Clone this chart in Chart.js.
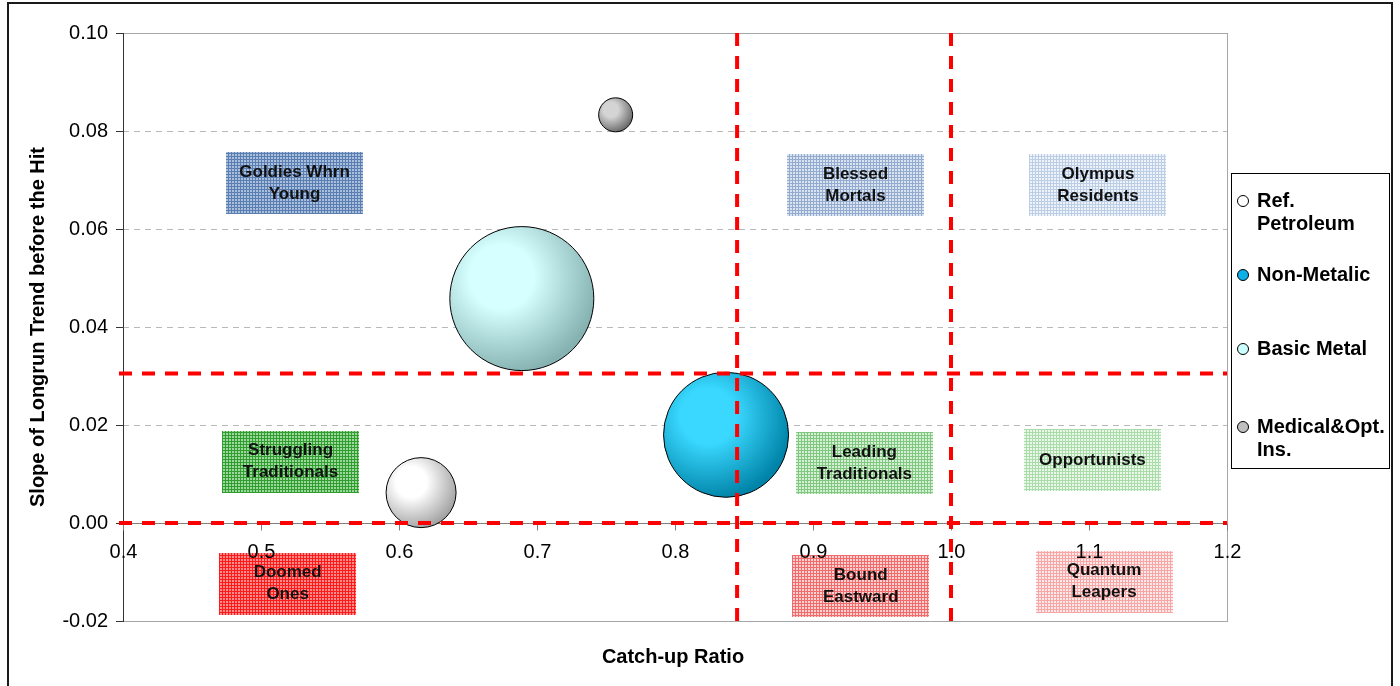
<!DOCTYPE html>
<html>
<head>
<meta charset="utf-8">
<title>Catch-up Ratio vs Slope of Longrun Trend</title>
<script src="https://cdn.jsdelivr.net/npm/chart.js@4.4.1/dist/chart.umd.min.js"></script>
<style>
  html, body { margin: 0; padding: 0; background: #ffffff; }
  #wrap { width: 1400px; height: 686px; }
</style>
</head>
<body>
<div id="wrap"><canvas id="chart" width="1400" height="686"></canvas></div>
<script>
// ---- data ----
const seriesNames = ['Ref. Petroleum', 'Non-Metalic', 'Basic Metal', 'Medical&Opt. Ins.'];
const legendLines = [['Ref.', 'Petroleum'], ['Non-Metalic'], ['Basic Metal'], ['Medical&Opt.', 'Ins.']];
const catchUpRatio = [0.616, 0.837, 0.689, 0.757];
const longrunSlope = [0.0062, 0.018, 0.0458, 0.0833];
const bubbleRadius = [35, 62.5, 72, 17];

const catchUpTicks = [0.4, 0.5, 0.6, 0.7, 0.8, 0.9, 1.0, 1.1, 1.2];
const slopeTicks = [-0.02, 0.00, 0.02, 0.04, 0.06, 0.08, 0.10];

// quadrant thresholds
const catchUpCuts = [0.845, 1.0];
const slopeCuts = [0.0, 0.0305];

// zone labels and their centres (catch-up, slope)
const zoneLabels = [
  ['Goldies Whrn', 'Young'], ['Blessed', 'Mortals'], ['Olympus', 'Residents'],
  ['Struggling', 'Traditionals'], ['Leading', 'Traditionals'], ['Opportunists'],
  ['Doomed', 'Ones'], ['Bound', 'Eastward'], ['Quantum', 'Leapers']
];
const zoneCatchUp = [0.5243, 0.9308, 1.1065, 0.5214, 0.9372, 1.1025, 0.5193, 0.9346, 1.1109];
const zoneSlope = [0.0693, 0.0689, 0.0689, 0.01255, 0.01218, 0.01276, -0.0124, -0.01286, -0.0120];

// ---- styling ----
const FONT = "'Liberation Sans', Arial, Helvetica, sans-serif";
const bubbleShades = [
  ['#ffffff', '#a4a4a4'],
  ['#3ad8ff', '#0083a8'],
  ['#d6ffff', '#86b2b2'],
  ['#d4d4d4', '#6c6c6c']
];
const legendFills = ['#ffffff', '#0ab0e6', '#ccffff', '#bfbfbf'];
const zoneHatch = [
  ['#5a7db2', '#aabfdc'], ['#94abd0', '#dae3f0'], ['#bccde6', '#eef2f9'],
  ['#2f9e2f', '#9ed89e'], ['#80c880', '#d6efd6'], ['#aadcaa', '#ebf7eb'],
  ['#ff1a1a', '#ff8c8c'], ['#f26a6a', '#fcd2d2'], ['#f7a6a6', '#fde9e9']
];
const ZONE_W = 0.0993;
const ZONE_H = 0.01265;

const canvas = document.getElementById('chart');
const c2d = canvas.getContext('2d');

function hatch(lineColor, fillColor) {
  const t = document.createElement('canvas');
  t.width = 3; t.height = 3;
  const g = t.getContext('2d');
  g.fillStyle = fillColor; g.fillRect(0, 0, 3, 3);
  g.fillStyle = lineColor; g.fillRect(0, 0, 3, 1); g.fillRect(0, 0, 1, 3);
  return c2d.createPattern(t, 'repeat');
}
const zonePatterns = zoneHatch.map(h => hatch(h[0], h[1]));

function shadedBubble(i) {
  return (ctx) => {
    if (ctx.type !== 'data' || !ctx.raw) return bubbleShades[i][0];
    const sx = ctx.chart.scales.x, sy = ctx.chart.scales.y;
    if (!sx || !sy || !sx.width) return bubbleShades[i][0];
    const px = sx.getPixelForValue(ctx.raw.x);
    const py = sy.getPixelForValue(ctx.raw.y);
    const r = ctx.raw.r;
    const hx = px - r * 0.28, hy = py - r * 0.3;
    const g = ctx.chart.ctx.createRadialGradient(hx, hy, r * 0.05, hx, hy, r * 1.35);
    g.addColorStop(0, bubbleShades[i][0]);
    g.addColorStop(0.3, bubbleShades[i][0]);
    g.addColorStop(1, bubbleShades[i][1]);
    return g;
  };
}

const datasets = seriesNames.map((name, i) => ({
  label: name,
  data: [{ x: catchUpRatio[i], y: longrunSlope[i], r: bubbleRadius[i] }],
  backgroundColor: shadedBubble(i),
  borderColor: '#000000',
  borderWidth: 1,
  hoverRadius: 0,
  clip: false
}));

function strokeLine(ctx, x1, y1, x2, y2) {
  ctx.beginPath(); ctx.moveTo(x1, y1); ctx.lineTo(x2, y2); ctx.stroke();
}

const decorations = {
  id: 'decorations',
  beforeDraw(chart) {
    const { ctx, chartArea: a, scales: { x, y } } = chart;
    ctx.save();
    ctx.fillStyle = '#ffffff';
    ctx.fillRect(0, 0, chart.width, chart.height);

    // dashed horizontal gridlines
    ctx.strokeStyle = '#b8b8b8';
    ctx.lineWidth = 1;
    ctx.setLineDash([6, 5]);
    slopeTicks.forEach(v => {
      if (v <= slopeTicks[0] || v >= slopeTicks[slopeTicks.length - 1] || v === 0) return;
      const py = Math.round(y.getPixelForValue(v)) + 0.5;
      strokeLine(ctx, a.left, py, a.right, py);
    });
    ctx.setLineDash([]);

    // plot frame
    ctx.strokeStyle = '#a6a6a6';
    ctx.strokeRect(Math.round(a.left) + 0.5, Math.round(a.top) + 0.5,
                   Math.round(a.right - a.left), Math.round(a.bottom - a.top));

    // zone boxes
    zoneLabels.forEach((lines, i) => {
      const l = x.getPixelForValue(zoneCatchUp[i] - ZONE_W / 2);
      const r = x.getPixelForValue(zoneCatchUp[i] + ZONE_W / 2);
      const t = y.getPixelForValue(zoneSlope[i] + ZONE_H / 2);
      const b = y.getPixelForValue(zoneSlope[i] - ZONE_H / 2);
      ctx.fillStyle = zonePatterns[i];
      ctx.fillRect(Math.round(l), Math.round(t), Math.round(r - l), Math.round(b - t));
      ctx.fillStyle = '#111111';
      ctx.font = 'bold 17px ' + FONT;
      ctx.textAlign = 'center';
      ctx.textBaseline = 'middle';
      const cx = (l + r) / 2, cy = (t + b) / 2;
      const lh = 22;
      lines.forEach((txt, k) => {
        ctx.fillText(txt, cx, cy + (k - (lines.length - 1) / 2) * lh);
      });
    });
    ctx.restore();
  },
  beforeDatasetsDraw(chart) {
    // horizontal axis crossing at slope 0, with its ticks and labels
    const { ctx, chartArea: a, scales: { x, y } } = chart;
    const py = Math.round(y.getPixelForValue(0)) + 0.5;
    ctx.save();
    ctx.strokeStyle = '#7f7f7f';
    ctx.lineWidth = 1;
    strokeLine(ctx, a.left, py, a.right, py);
    ctx.fillStyle = '#000000';
    ctx.font = '20px ' + FONT;
    ctx.textAlign = 'center';
    ctx.textBaseline = 'middle';
    catchUpTicks.forEach(v => {
      const px = Math.round(x.getPixelForValue(v)) + 0.5;
      strokeLine(ctx, px, py, px, py + 7);
      ctx.fillText(v.toFixed(1), px, py + 29);
    });
    ctx.restore();
  },
  afterDatasetsDraw(chart) {
    const { ctx, chartArea: a, scales: { x, y } } = chart;
    ctx.save();
    ctx.strokeStyle = '#ff0000';
    ctx.lineWidth = 4;
    ctx.setLineDash([13, 10]);
    slopeCuts.forEach(v => {
      const py = y.getPixelForValue(v);
      strokeLine(ctx, a.left - 4, py, a.right, py);
    });
    catchUpCuts.forEach(v => {
      const px = x.getPixelForValue(v);
      strokeLine(ctx, px, a.top, px, a.bottom);
    });
    ctx.restore();
  },
  afterDraw(chart) {
    const { ctx, chartArea: a } = chart;
    ctx.save();
    // x axis title
    ctx.fillStyle = '#000000';
    ctx.font = 'bold 20px ' + FONT;
    ctx.textAlign = 'center';
    ctx.textBaseline = 'middle';
    ctx.fillText('Catch-up Ratio', (a.left + a.right) / 2 - 2, 657);

    // legend
    ctx.strokeStyle = '#000000';
    ctx.lineWidth = 1;
    ctx.strokeRect(1231.5, 173.5, 158, 295);
    const rowY = [201, 275, 349, 427];
    ctx.textAlign = 'left';
    legendLines.forEach((lines, i) => {
      ctx.beginPath();
      ctx.arc(1243, rowY[i], 5.5, 0, Math.PI * 2);
      ctx.fillStyle = legendFills[i];
      ctx.fill();
      ctx.stroke();
      ctx.fillStyle = '#000000';
      lines.forEach((txt, k) => ctx.fillText(txt, 1257, rowY[i] + k * 23));
    });

    // outer frame
    ctx.strokeStyle = '#1a1a1a';
    ctx.lineWidth = 2;
    ctx.strokeRect(8, 3, 1384, 700);
    ctx.restore();
  }
};

new Chart(canvas, {
  type: 'bubble',
  data: { datasets },
  plugins: [decorations],
  options: {
    responsive: false,
    animation: false,
    devicePixelRatio: 1,
    events: [],
    layout: { autoPadding: false, padding: { left: 0, top: 33, right: 173, bottom: 65 } },
    plugins: {
      legend: { display: false },
      tooltip: { enabled: false }
    },
    scales: {
      x: {
        type: 'linear',
        position: 'bottom',
        min: catchUpTicks[0],
        max: catchUpTicks[catchUpTicks.length - 1],
        afterFit: s => { s.height = 0; s.paddingLeft = 0; s.paddingRight = 0; },
        afterBuildTicks: s => { s.ticks = catchUpTicks.map(v => ({ value: v })); },
        ticks: { display: false },
        grid: { display: false, drawOnChartArea: false, drawTicks: false },
        border: { display: false }
      },
      y: {
        type: 'linear',
        min: slopeTicks[0],
        max: slopeTicks[slopeTicks.length - 1],
        afterFit: s => { s.width = 123; },
        afterBuildTicks: s => { s.ticks = slopeTicks.map(v => ({ value: v })); },
        ticks: {
          padding: 8,
          color: '#000000',
          font: { family: FONT, size: 20 },
          callback: v => Number(v).toFixed(2)
        },
        grid: { drawOnChartArea: false, drawTicks: true, tickLength: 7, tickColor: '#333333' },
        border: { color: '#333333', width: 1 },
        title: {
          display: true,
          text: 'Slope of Longrun Trend before the Hit',
          color: '#000000',
          font: { family: FONT, size: 20, weight: 'bold' },
          padding: { top: 26, bottom: 0 }
        }
      }
    }
  }
});
</script>
</body>
</html>
